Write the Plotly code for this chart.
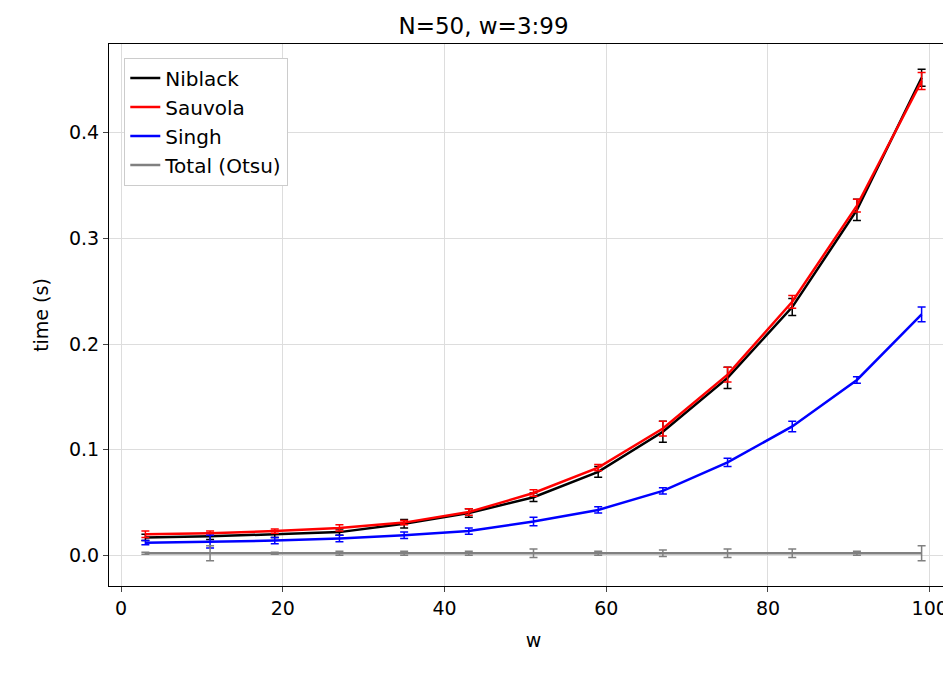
import plotly.graph_objects as go

w = [3, 11, 19, 27, 35, 43, 51, 59, 67, 75, 83, 91, 99]

niblack = [0.017, 0.018, 0.020, 0.022, 0.030, 0.040, 0.055, 0.079, 0.117, 0.168, 0.235, 0.327, 0.452]
niblack_err = [0.003, 0.003, 0.003, 0.003, 0.004, 0.004, 0.004, 0.005, 0.010, 0.010, 0.008, 0.010, 0.008]
sauvola = [0.020, 0.021, 0.023, 0.026, 0.031, 0.041, 0.059, 0.083, 0.120, 0.171, 0.240, 0.331, 0.449]
sauvola_err = [0.003, 0.002, 0.002, 0.003, 0.002, 0.003, 0.003, 0.003, 0.007, 0.007, 0.006, 0.006, 0.008]
singh = [0.012, 0.013, 0.014, 0.016, 0.019, 0.023, 0.032, 0.043, 0.061, 0.088, 0.122, 0.166, 0.228]
singh_err = [0.002, 0.006, 0.003, 0.003, 0.003, 0.003, 0.004, 0.003, 0.003, 0.004, 0.005, 0.003, 0.007]
otsu = [0.002, 0.002, 0.002, 0.002, 0.002, 0.002, 0.002, 0.002, 0.002, 0.002, 0.002, 0.002, 0.002]
otsu_err = [0.001, 0.007, 0.001, 0.002, 0.002, 0.002, 0.004, 0.002, 0.003, 0.004, 0.004, 0.002, 0.007]

series = [
	('Niblack', niblack, niblack_err, 'black'),
	('Sauvola', sauvola, sauvola_err, 'red'),
	('Singh', singh, singh_err, 'blue'),
	('Total (Otsu)', otsu, otsu_err, 'gray'),
]

fig = go.Figure()
for name, y, err, color in series:
	fig.add_trace(go.Scatter(x=w, y=y, name=name, mode='lines',
		line=dict(color=color, width=2.5),
		error_y=dict(type='data', array=err, color=color, thickness=1.5, width=4)))

axis = dict(showline=True, linecolor='black', mirror=True, ticks='outside',
	gridcolor='#dddddd', zeroline=False, tickfont=dict(size=19, color='black'),
	title_font=dict(size=19, color='black'))

fig.update_layout(
	width=951, height=680,
	paper_bgcolor='white', plot_bgcolor='white',
	font=dict(family='DejaVu Sans', color='black'),
	title=dict(text='N=50, w=3:99', x=0.5, xanchor='center', y=0.985, font=dict(size=23)),
	margin=dict(l=101, r=1, t=36, b=102),
	xaxis=dict(axis, title_text='w', range=[-1.5, 103.5], tickvals=[0, 20, 40, 60, 80, 100]),
	yaxis=dict(axis, title_text='time (s)', range=[-0.029, 0.484],
		tickvals=[0, 0.1, 0.2, 0.3, 0.4], tickformat='.1f'),
	legend=dict(x=0.018, y=0.975, xanchor='left', yanchor='top',
		bordercolor='#cccccc', borderwidth=1, font=dict(size=20), bgcolor='white'),
)

fig.write_html('out.html')
